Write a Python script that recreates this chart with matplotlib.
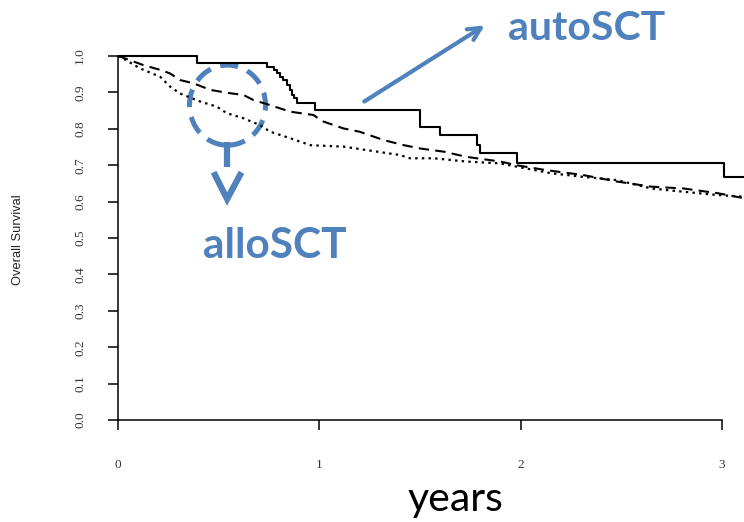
import matplotlib
matplotlib.use("Agg")
import matplotlib.pyplot as plt
from matplotlib.patches import Ellipse

# Kaplan-Meier style curves (years, survival)
auto_t = [0, 0.39, 0.74, 0.773, 0.79, 0.806, 0.822, 0.839, 0.856, 0.864, 0.874, 0.889,
          0.98, 1.50, 1.60, 1.785, 1.80, 1.98, 3.01, 3.15]
auto_s = [1.0, 0.982, 0.971, 0.962, 0.952, 0.943, 0.934, 0.920, 0.907, 0.893, 0.884, 0.870,
          0.852, 0.806, 0.783, 0.755, 0.733, 0.707, 0.668, 0.668]

dash_t = [0, 0.027, 0.126, 0.209, 0.259, 0.308, 0.375, 0.458, 0.54, 0.623, 0.673, 0.756,
          0.856, 0.97, 1.02, 1.12, 1.20, 1.32, 1.42, 1.50, 1.62, 1.73, 1.90, 1.98, 2.12,
          2.31, 2.48, 2.65, 2.81, 2.98, 3.15]
dash_s = [1.0, 0.995, 0.975, 0.962, 0.952, 0.934, 0.925, 0.907, 0.899, 0.893, 0.879, 0.865,
          0.847, 0.838, 0.820, 0.801, 0.792, 0.769, 0.755, 0.746, 0.737, 0.723, 0.710, 0.700, 0.687,
          0.673, 0.655, 0.641, 0.636, 0.623, 0.605]

dot_t = [0, 0.027, 0.109, 0.209, 0.259, 0.308, 0.408, 0.49, 0.54, 0.623, 0.706, 0.756,
         0.856, 0.955, 1.12, 1.29, 1.40, 1.45, 1.57, 1.73, 1.90, 1.98, 2.15, 2.31, 2.48,
         2.65, 2.81, 2.98, 3.15]
dot_s = [1.0, 0.993, 0.966, 0.943, 0.916, 0.897, 0.875, 0.861, 0.843, 0.829, 0.810, 0.792,
         0.774, 0.755, 0.751, 0.737, 0.728, 0.719, 0.719, 0.710, 0.705, 0.696, 0.678, 0.668, 0.659,
         0.636, 0.627, 0.618, 0.612]

y_ticks = [0.0, 0.1, 0.2, 0.3, 0.4, 0.5, 0.6, 0.7, 0.8, 0.9, 1.0]
x_ticks = [0, 1, 2, 3]

blue = "#4f81bd"
W, H = 744, 522

fig = plt.figure(figsize=(W / 100, H / 100), dpi=100)
# axes: x=0 at px 118, 1 year = 201.3 px ; y=0 at px 420, y=1 at px 56
left, bottom = 118, 420
ax = fig.add_axes([left / W, (H - bottom) / H, (W - left) / W, bottom / H])
ax.set_xlim(0, (W - left) / 201.3)
ax.set_ylim(0, bottom / 364.0)
ax.patch.set_alpha(0)

ax.plot(auto_t, auto_s, color="black", lw=1.5, drawstyle="steps-post")
ax.plot(dash_t, dash_s, color="black", lw=1.5, dashes=(5, 3))
ax.plot(dot_t, dot_s, color="black", lw=1.6, dashes=(1.1, 1.9))

# R-like axes crossing at the origin
for side in ["top", "right"]:
    ax.spines[side].set_visible(False)
ax.spines["left"].set_position(("data", 0))
ax.spines["bottom"].set_position(("data", 0))
ax.spines["left"].set_bounds(0, 1)
ax.spines["bottom"].set_bounds(0, 3)
ax.spines["left"].set_linewidth(1.1)
ax.spines["bottom"].set_linewidth(1.1)

ax.set_yticks(y_ticks)
ax.set_yticklabels(["%.1f" % v for v in y_ticks], rotation=90, va="center",
                   family="Liberation Serif", fontsize=9.5, color="#333333")
ax.set_xticks(x_ticks)
ax.set_xticklabels([str(v) for v in x_ticks], family="Liberation Serif",
                   fontsize=9.5, color="#333333")
ax.tick_params(axis="y", direction="out", length=7, width=1.1, pad=16)
ax.tick_params(axis="x", direction="out", length=7, width=1.1, pad=21)

fig.text(18 / W, 1 - 240 / H, "Overall Survival", rotation=90, ha="center", va="center",
         family="Liberation Sans", fontsize=9.3, color="#222222")
fig.text(455 / W, 1 - 500 / H, "years", ha="center", va="center",
         family="Lato", fontsize=29.5, color="black")

# annotations
ax.annotate("", xy=(1.833, 1.088), xytext=(1.212, 0.871),
            arrowprops=dict(arrowstyle="->,head_length=0.9,head_width=0.45",
                            color=blue, lw=3))
ax.text(2.327, 1.044, "autoSCT", ha="center", va="baseline", family="Lato",
        fontweight="bold", fontsize=29.5, color=blue)

circ = Ellipse((0.544, 0.865), 0.378, 0.22, fill=False, edgecolor=blue, lw=3.6)
circ.set_linestyle((0, (3.6, 2.0)))
ax.add_patch(circ)
ax.plot([0.542, 0.542], [0.764, 0.696], color=blue, lw=4.5, solid_capstyle="butt")
ax.plot([0.482, 0.542, 0.606], [0.673, 0.607, 0.673], color=blue, lw=4.5,
        solid_joinstyle="miter")
ax.text(0.78, 0.445, "alloSCT", ha="center", va="baseline", family="Lato",
        fontweight="bold", fontsize=30.5, color=blue)

fig.savefig("out.png", dpi=100)
